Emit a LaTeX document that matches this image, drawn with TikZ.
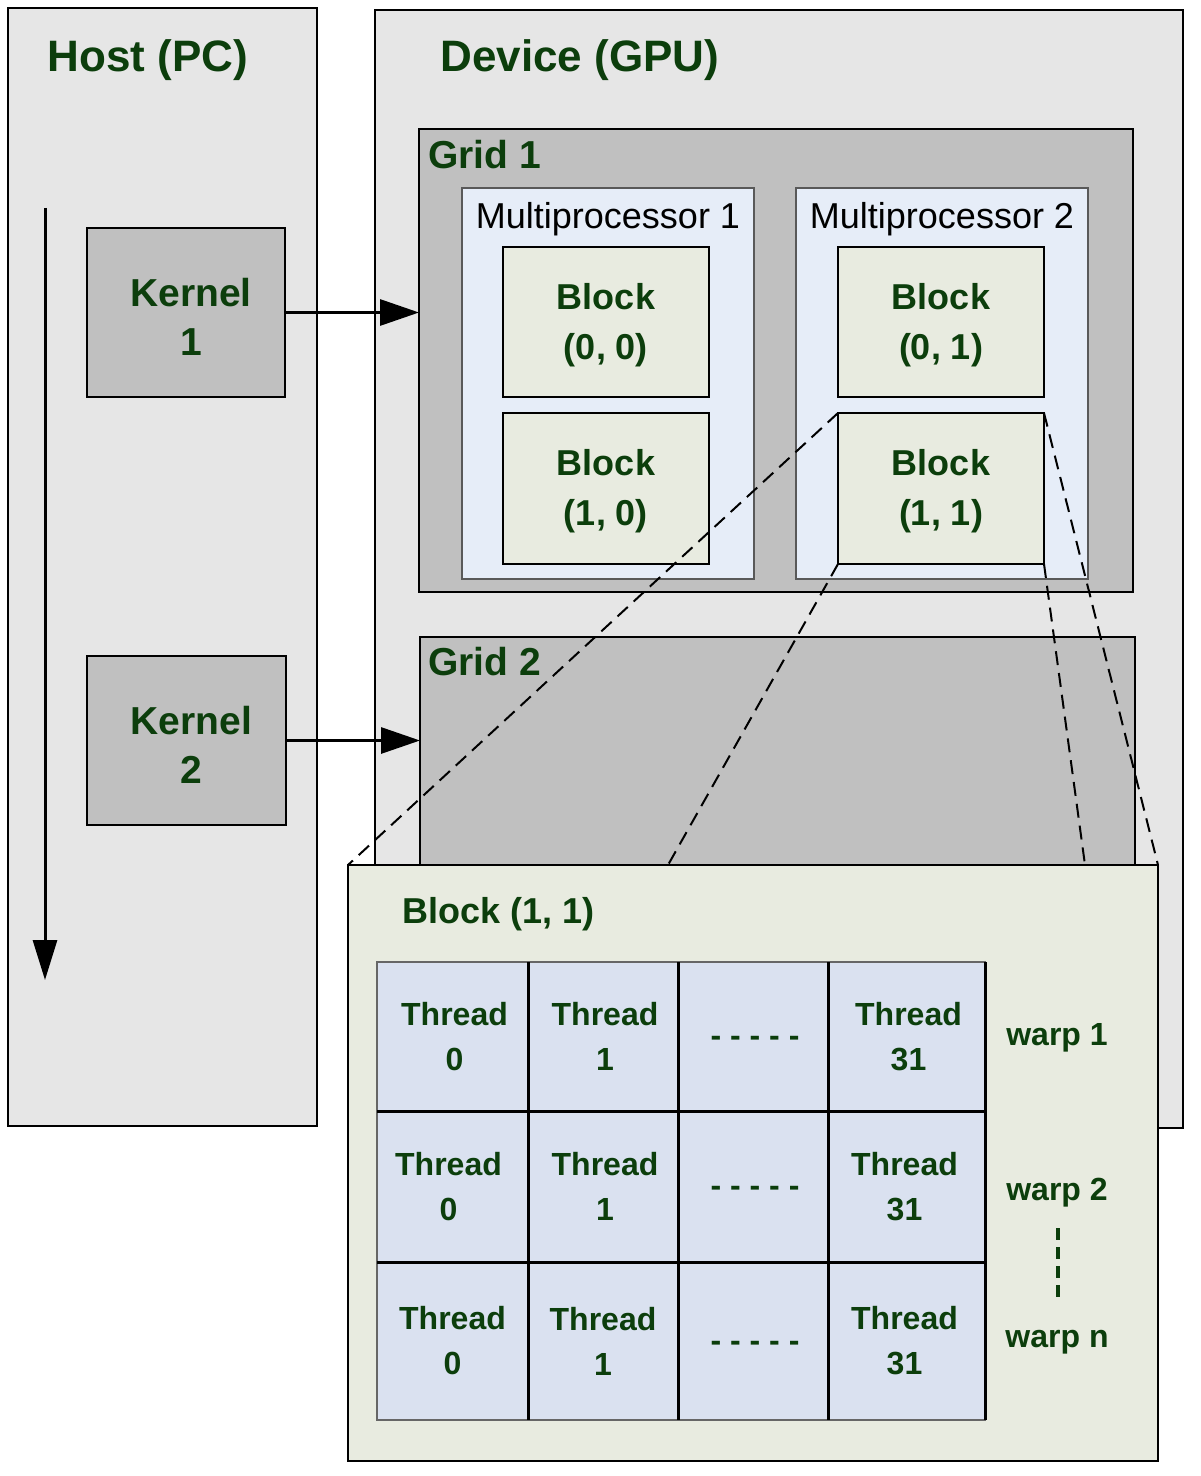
\documentclass[tikz,border=0pt]{standalone}
\usepackage{fontspec}
\setmainfont{Liberation Sans}
\usetikzlibrary{arrows.meta}
\definecolor{hostbg}{RGB}{230,230,230}
\definecolor{gridbg}{RGB}{192,192,192}
\definecolor{mpbg}{RGB}{230,237,248}
\definecolor{blockbg}{RGB}{232,235,224}
\definecolor{threadbg}{RGB}{218,225,240}
\definecolor{tgreen}{RGB}{12,62,12}
\newcommand\pbox[6]{\node[#1, anchor=north west, inner sep=0pt, outer sep=0pt, minimum width={(#4-#2)*0.5pt}, minimum height={(#5-#3)*0.5pt}] (#6) at (#2,#3) {};}
\begin{document}
\begin{tikzpicture}[x=0.5pt,y=-0.5pt,
  hostst/.style={draw=black, fill=hostbg, line width=1pt},
  kernst/.style={draw=black, fill=gridbg, line width=1.2pt},
  gridst/.style={draw=black, fill=gridbg, line width=1.4pt},
  mpst/.style={draw=black!65, fill=mpbg, line width=0.8pt},
  blockst/.style={draw=black, fill=blockbg, line width=1.4pt},
  panelst/.style={draw=black, fill=blockbg, line width=1.2pt},
  cellst/.style={fill=threadbg},
  title/.style={font=\fontsize{22}{26}\selectfont\bfseries, text=tgreen, inner sep=0pt, anchor=base west},
  kt/.style={font=\fontsize{19.5}{24.5}\selectfont\bfseries, text=tgreen, align=center, inner sep=0pt},
  gt/.style={font=\fontsize{19.5}{24}\selectfont\bfseries, text=tgreen, inner sep=0pt, anchor=base west},
  bt/.style={font=\fontsize{18}{25}\selectfont\bfseries, text=tgreen, align=center, inner sep=0pt},
  mpt/.style={font=\fontsize{18}{22}\selectfont, text=black, inner sep=0pt, anchor=base},
  pt/.style={font=\fontsize{18}{22}\selectfont\bfseries, text=tgreen, inner sep=0pt, anchor=base west},
  tt/.style={font=\fontsize{16}{22.5}\selectfont\bfseries, text=tgreen, align=center, inner sep=0pt},
  wt/.style={font=\fontsize{16}{20}\selectfont\bfseries, text=tgreen, inner sep=0pt, anchor=base},
  arr/.style={line width=1.5pt, -{Triangle[length=19.5pt,width=13pt]}},
  dashln/.style={line width=1pt, dash pattern=on 7pt off 4pt},
  gline/.style={line width=1.5pt, black}
]
\useasboundingbox (0,0) rectangle (1200,1476);
\fill[white] (0,0) rectangle (1200,1476);
% host and device
\pbox{hostst}{8}{8}{317}{1126}{host}
\pbox{hostst}{375}{10}{1183}{1128}{device}
\node[title] (hostt) at (47,72) {Host (PC)};
\node[title] (devt) at (440,72) {Device (GPU)};
% timeline
\coordinate (tl1) at (45,208);
\coordinate (tl2) at (45,980);
\draw[line width=1.5pt, -{Triangle[length=20pt,width=12pt]}] (tl1) -- (tl2);
% kernels
\pbox{kernst}{87}{228}{285}{397}{k1}
\pbox{kernst}{87}{656}{286}{825}{k2}
\node[kt] (k1t) at ([xshift=2.5pt,yshift=-2pt]k1.center) {Kernel\\1};
\node[kt] (k2t) at ([xshift=2.5pt,yshift=-2pt]k2.center) {Kernel\\2};
% grid 1
\pbox{gridst}{419}{129}{1133}{592}{grid1}
\node[gt] (g1t) at (428,169) {Grid 1};
\pbox{mpst}{462}{188}{754}{579}{mp1}
\pbox{mpst}{796}{188}{1088}{579}{mp2}
\node[mpt] (mp1t) at (608,229) {Multiprocessor 1};
\node[mpt] (mp2t) at (942,229) {Multiprocessor 2};
\pbox{blockst}{503}{247}{709}{397}{b00}
\pbox{blockst}{503}{413}{709}{564}{b10}
\pbox{blockst}{838}{247}{1044}{397}{b01}
\pbox{blockst}{838}{413}{1044}{564}{b11}
\node[bt] (b00t) at ([yshift=-1.5pt]b00.center) {Block\\(0, 0)};
\node[bt] (b10t) at ([yshift=-1.5pt]b10.center) {Block\\(1, 0)};
\node[bt] (b01t) at ([yshift=-1.5pt]b01.center) {Block\\(0, 1)};
\node[bt] (b11t) at ([yshift=-1.5pt]b11.center) {Block\\(1, 1)};
% grid 2
\pbox{gridst}{420}{637}{1135}{920}{grid2}
\node[gt] (g2t) at (428,675) {Grid 2};
% kernel arrows
\draw[arr] (k1.east) -- (k1.east -| grid1.west);
\draw[arr] (k2.east) -- (k2.east -| grid2.west);
% zoom lines
\coordinate (zbl) at (668,865);
\coordinate (zbr) at (1085,865);
\draw[dashln] (b11.north west) -- (348,865);
\draw[dashln] (b11.south west) -- (zbl);
\draw[dashln] (b11.north east) -- (1158,865);
\draw[dashln] (b11.south east) -- (zbr);
% panel
\pbox{panelst}{348}{865}{1158}{1461}{panel}
\node[pt] (pant) at (402,923) {Block (1, 1)};
% thread cells
\pbox{cellst}{377}{962}{528}{1111}{c11}
\pbox{cellst}{528}{962}{678}{1111}{c12}
\pbox{cellst}{678}{962}{828}{1111}{c13}
\pbox{cellst}{828}{962}{985}{1111}{c14}
\pbox{cellst}{377}{1111}{528}{1262}{c21}
\pbox{cellst}{528}{1111}{678}{1262}{c22}
\pbox{cellst}{678}{1111}{828}{1262}{c23}
\pbox{cellst}{828}{1111}{985}{1262}{c24}
\pbox{cellst}{377}{1262}{528}{1420}{c31}
\pbox{cellst}{528}{1262}{678}{1420}{c32}
\pbox{cellst}{678}{1262}{828}{1420}{c33}
\pbox{cellst}{828}{1262}{985}{1420}{c34}
\draw[black!60, line width=0.7pt] (c11.north west) rectangle (c34.south east);
\draw[gline] (c11.north east) -- (c31.south east);
\draw[gline] (c12.north east) -- (c32.south east);
\draw[gline] (c13.north east) -- (c33.south east);
\draw[gline] (c14.north east) -- (c34.south east);
\draw[gline] (c21.north west) -- (c24.north east);
\draw[gline] (c31.north west) -- (c34.north east);
\node[tt] (t11) at ([xshift=1pt]c11.center) {Thread\\0};
\node[tt] (t12) at ([xshift=1pt]c12.center) {Thread\\1};
\node[tt] (t13) at ([xshift=1pt,yshift=-2.5pt]c13.center) {- - - - -};
\node[tt] (t14) at ([xshift=1pt]c14.center) {Thread\\31};
\node[tt] (t21) at ([xshift=-2pt]c21.center) {Thread\\0};
\node[tt] (t22) at ([xshift=1pt]c22.center) {Thread\\1};
\node[tt] (t23) at ([xshift=1pt,yshift=-2.5pt]c23.center) {- - - - -};
\node[tt] (t24) at ([xshift=-1pt]c24.center) {Thread\\31};
\node[tt] (t31) at ([xshift=0pt]c31.center) {Thread\\0};
\node[tt] (t32) at ([xshift=0pt]c32.center) {Thread\\1};
\node[tt] (t33) at ([xshift=1pt,yshift=-2.5pt]c33.center) {- - - - -};
\node[tt] (t34) at ([xshift=-1pt]c34.center) {Thread\\31};
% warps
\node[wt] (w1) at (1057,1045) {warp 1};
\node[wt] (w2) at (1057,1200) {warp 2};
\node[wt] (wn) at (1057,1347) {warp n};
\coordinate (wd1) at (1058,1228);
\coordinate (wd2) at (1058,1297);
\draw[tgreen, line width=2pt, dash pattern=on 6pt off 3.5pt] (wd1) -- (wd2);
\end{tikzpicture}
\end{document}
